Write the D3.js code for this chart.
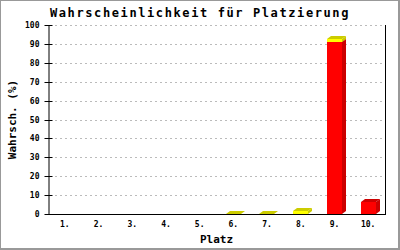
<!DOCTYPE html>
<html>
<head>
<meta charset="utf-8">
<script src="https://cdn.jsdelivr.net/npm/d3@7"></script>
<style>
  body { margin: 0; background: #fff; }
  svg { display: block; }
  text { font-family: 'DejaVu Sans Mono', monospace; fill: #000; }
</style>
</head>
<body>
<svg id="chart"></svg>
<script>
const places = ['1.', '2.', '3.', '4.', '5.', '6.', '7.', '8.', '9.', '10.'];
const redValues = [0, 0, 0, 0, 0, 0, 0, 0, 91, 6.3];
const yellowValues = [0, 0, 0, 0, 0, 0.2, 0.2, 1.6, 1.6, 0];
const yTicks = [0, 10, 20, 30, 40, 50, 60, 70, 80, 90, 100];

const W = 400, H = 250;
const margin = { top: 25, right: 15, bottom: 36, left: 48 };
const depthX = 4, depthY = 3;

const series = [
  { values: redValues, front: '#ff0000', shade: '#cc0000' },
  { values: yellowValues, front: '#ffff00', shade: '#cccc00' },
];

const svg = d3.select('#chart').attr('width', W).attr('height', H);

// outer frame
svg.append('rect').attr('width', W).attr('height', H).attr('fill', '#999');
svg.append('rect').attr('x', 1).attr('y', 1)
  .attr('width', W - 3).attr('height', H - 3).attr('fill', '#fff');

const x = d3.scaleBand()
  .domain(places)
  .range([margin.left, W - margin.right])
  .paddingInner(0.55)
  .paddingOuter(0.275);

const y = d3.scaleLinear()
  .domain([0, 100])
  .range([H - margin.bottom, margin.top]);

// gridlines
svg.append('g')
  .selectAll('line')
  .data(yTicks.filter((d) => d > 0))
  .join('line')
  .attr('x1', margin.left + 7)
  .attr('x2', W - margin.right - 3)
  .attr('y1', (d) => Math.round(y(d)) + 0.5)
  .attr('y2', (d) => Math.round(y(d)) + 0.5)
  .attr('stroke', '#bbb')
  .attr('stroke-dasharray', '2,3');

// bars (stacked, pseudo 3D)
const barsG = svg.append('g');
places.forEach((p, i) => {
  let base = 0;
  series.forEach((s) => {
    const v = s.values[i];
    if (v <= 0) return;
    const x0 = Math.round(x(p));
    const x1 = x0 + Math.round(x.bandwidth());
    const yb = Math.round(y(base));
    const yt = Math.round(y(base + v));
    barsG.append('rect')
      .attr('x', x0).attr('y', yt)
      .attr('width', x1 - x0).attr('height', yb - yt)
      .attr('fill', s.front);
    barsG.append('path')
      .attr('d', `M${x1},${yb}L${x1 + depthX},${yb - depthY}L${x1 + depthX},${yt - depthY}L${x1},${yt}Z`)
      .attr('fill', s.shade);
    barsG.append('path')
      .attr('d', `M${x0},${yt}L${x1},${yt}L${x1 + depthX},${yt - depthY}L${x0 + depthX},${yt - depthY}Z`)
      .attr('fill', s.shade);
    base += v;
  });
});

// y axis
const yAxis = svg.append('g')
  .attr('transform', `translate(${margin.left + 0.5},0)`)
  .call(d3.axisLeft(y).tickValues(yTicks).tickSizeInner(4).tickSizeOuter(0).tickPadding(5));
yAxis.select('.domain').attr('stroke', '#000');
yAxis.selectAll('.tick line').attr('x2', 4).attr('x1', -4).attr('stroke', '#000');
yAxis.selectAll('.tick').attr('transform', (d) => `translate(0,${Math.round(y(d)) + 0.5})`);
yAxis.selectAll('.tick text')
  .attr('font-family', 'DejaVu Sans Mono')
  .attr('font-size', 8)
  .attr('font-weight', 'bold')
  .attr('x', -9);

// x axis
const xAxis = svg.append('g')
  .attr('transform', `translate(0,${Math.round(y(0)) + 0.5})`)
  .call(d3.axisBottom(x).tickSize(0).tickPadding(7));
xAxis.select('.domain').attr('d', `M${margin.left},0H${W - margin.right}`).attr('stroke', '#000');
xAxis.selectAll('.tick text')
  .attr('font-family', 'DejaVu Sans Mono')
  .attr('font-size', 8)
  .attr('font-weight', 'bold');

// right frame line
svg.append('line')
  .attr('x1', W - margin.right + 0.5).attr('x2', W - margin.right + 0.5)
  .attr('y1', margin.top).attr('y2', Math.round(y(0)) + 1)
  .attr('stroke', '#000');

// title
svg.append('text')
  .attr('x', 200)
  .attr('y', 17)
  .attr('text-anchor', 'middle')
  .attr('font-size', 12)
  .attr('font-weight', 'bold')
  .attr('letter-spacing', 1.6)
  .text('Wahrscheinlichkeit für Platzierung');

// axis labels
svg.append('text')
  .attr('x', (margin.left + W - margin.right) / 2)
  .attr('y', 243)
  .attr('text-anchor', 'middle')
  .attr('font-size', 11)
  .attr('font-weight', 'bold')
  .text('Platz');

svg.append('text')
  .attr('transform', `translate(16,${(margin.top + H - margin.bottom) / 2}) rotate(-90)`)
  .attr('text-anchor', 'middle')
  .attr('font-size', 11)
  .attr('font-weight', 'bold')
  .text('Wahrsch. (%)');
</script>
</body>
</html>
